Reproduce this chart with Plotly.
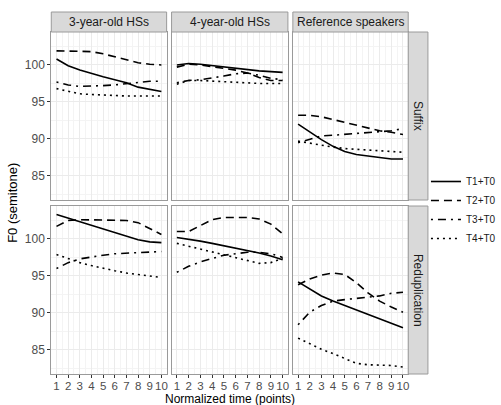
import plotly.graph_objects as go

# ---------------- data ----------------
time_points = list(range(1, 11))
groups = ["3-year-old HSs", "4-year-old HSs", "Reference speakers"]
conditions = ["Suffix", "Reduplication"]
tone_labels = ["T1+T0", "T2+T0", "T3+T0", "T4+T0"]
x_tick_labels = [str(i) for i in range(1, 11)]
y_tick_values = [85, 90, 95, 100]

# Suffix, 3-year-old HSs
suf_3_t1 = [100.8, 99.9, 99.3, 98.8, 98.4, 98.0, 97.6, 97.0, 96.7, 96.4]
suf_3_t2 = [101.9, 101.9, 101.9, 101.8, 101.5, 101.1, 100.7, 100.3, 100.1, 100.0]
suf_3_t3 = [97.7, 97.3, 97.1, 97.1, 97.2, 97.3, 97.5, 97.7, 97.8, 97.8]
suf_3_t4 = [96.8, 96.4, 96.1, 96.0, 95.9, 95.8, 95.8, 95.8, 95.8, 95.8]
# Suffix, 4-year-old HSs
suf_4_t1 = [100.0, 100.2, 100.1, 99.9, 99.7, 99.5, 99.3, 99.2, 99.1, 99.0]
suf_4_t2 = [99.7, 100.1, 100.0, 99.8, 99.6, 99.3, 98.9, 98.3, 97.9, 97.9]
suf_4_t3 = [97.6, 97.9, 98.0, 98.2, 98.5, 98.8, 98.9, 98.6, 98.2, 98.0]
suf_4_t4 = [97.4, 97.9, 97.9, 97.8, 97.7, 97.6, 97.6, 97.5, 97.5, 97.5]
# Suffix, Reference speakers
suf_r_t1 = [92.0, 90.9, 89.9, 89.0, 88.3, 87.9, 87.7, 87.6, 87.3, 87.3]
suf_r_t2 = [93.2, 93.2, 93.0, 92.6, 92.2, 91.8, 91.4, 91.1, 90.9, 90.6]
suf_r_t3 = [89.5, 90.0, 90.4, 90.5, 90.6, 90.7, 90.8, 90.9, 91.1, 91.4]
suf_r_t4 = [89.7, 89.4, 89.1, 88.9, 88.7, 88.6, 88.5, 88.4, 88.3, 88.2]
# Reduplication, 3-year-old HSs
red_3_t1 = [103.3, 102.8, 102.3, 101.8, 101.3, 100.8, 100.4, 99.9, 99.6, 99.5]
red_3_t2 = [101.7, 102.5, 102.6, 102.6, 102.6, 102.6, 102.5, 102.2, 101.4, 100.6]
red_3_t3 = [96.0, 96.8, 97.3, 97.6, 97.8, 98.0, 98.1, 98.2, 98.3, 98.3]
red_3_t4 = [97.9, 97.3, 96.8, 96.4, 96.0, 95.7, 95.4, 95.2, 94.9, 94.8]
# Reduplication, 4-year-old HSs
red_4_t1 = [100.2, 100.0, 99.7, 99.4, 99.1, 98.8, 98.5, 98.1, 97.7, 97.2]
red_4_t2 = [101.0, 101.0, 101.8, 102.6, 102.9, 102.9, 102.9, 102.7, 102.0, 100.7]
red_4_t3 = [95.5, 96.3, 96.9, 97.4, 97.8, 98.0, 98.2, 98.2, 98.0, 97.5]
red_4_t4 = [99.4, 99.0, 98.6, 98.2, 97.8, 97.4, 97.0, 96.7, 96.8, 97.4]
# Reduplication, Reference speakers
red_r_t1 = [94.2, 93.3, 92.3, 91.6, 91.0, 90.4, 89.8, 89.2, 88.6, 88.0]
red_r_t2 = [93.8, 94.6, 95.1, 95.4, 95.2, 94.1, 92.7, 91.6, 90.8, 90.1]
red_r_t3 = [88.4, 90.1, 91.0, 91.6, 91.8, 92.0, 92.1, 92.3, 92.65, 92.8]
red_r_t4 = [86.6, 85.8, 85.1, 84.5, 83.8, 83.2, 83.0, 83.0, 82.9, 82.7]

panels = [
    [suf_3_t1, suf_3_t2, suf_3_t3, suf_3_t4],
    [suf_4_t1, suf_4_t2, suf_4_t3, suf_4_t4],
    [suf_r_t1, suf_r_t2, suf_r_t3, suf_r_t4],
    [red_3_t1, red_3_t2, red_3_t3, red_3_t4],
    [red_4_t1, red_4_t2, red_4_t3, red_4_t4],
    [red_r_t1, red_r_t2, red_r_t3, red_r_t4],
]

# ---------------- styling ----------------
W, H = 501, 405
FONT = "Liberation Sans, Arial, sans-serif"
dashes = ["solid", "8px,5px", "2px,5px,8px,5px", "2px,4px"]
BORDER = "#9a9a9a"
STRIP_FILL = "#D9D9D9"

def px_x(p):
    return p / W

def px_y(p):
    return 1 - p / H

col_px = [(52, 169), (174, 292), (297, 414)]
row_px = [(32, 200), (206, 374)]

fig = go.Figure()

for pi, series in enumerate(panels):
    ax = pi + 1
    xa = "x" if ax == 1 else f"x{ax}"
    ya = "y" if ax == 1 else f"y{ax}"
    for ti, vals in enumerate(series):
        fig.add_trace(go.Scatter(
            x=time_points, y=vals, mode="lines",
            line=dict(color="black", width=1.6, dash=dashes[ti]),
            name=tone_labels[ti], legendgroup=tone_labels[ti],
            showlegend=(pi == 0), xaxis=xa, yaxis=ya,
        ))

layout = dict(
    width=W, height=H,
    margin=dict(l=0, r=0, t=0, b=0),
    paper_bgcolor="white", plot_bgcolor="white",
    font=dict(family=FONT, color="#1A1A1A"),
    legend=dict(x=px_x(432), y=px_y(167), xanchor="left", yanchor="top",
                font=dict(size=10, family=FONT, color="#1A1A1A"),
                itemwidth=30, bgcolor="rgba(0,0,0,0)", tracegroupgap=0),
    shapes=[], annotations=[],
)

for pi in range(6):
    r, c = divmod(pi, 3)
    ax = pi + 1
    xkey = "xaxis" if ax == 1 else f"xaxis{ax}"
    ykey = "yaxis" if ax == 1 else f"yaxis{ax}"
    yname = "y" if ax == 1 else f"y{ax}"
    xname = "x" if ax == 1 else f"x{ax}"
    x0, x1 = col_px[c]
    y0, y1 = row_px[r]
    layout[xkey] = dict(
        domain=[px_x(x0), px_x(x1)], anchor=yname, range=[0.55, 10.45],
        tickmode="array", tickvals=time_points, ticktext=x_tick_labels,
        tickangle=0, ticklabelstandoff=-2,
        showticklabels=(r == 1), ticks="outside" if r == 1 else "",
        ticklen=3, tickcolor="#333333", tickwidth=1,
        tickfont=dict(size=11.5, family=FONT, color="#4D4D4D"),
        showgrid=True, gridcolor="#EBEBEB", gridwidth=1,
        minor=dict(tickmode="array", tickvals=[i + 0.5 for i in range(0, 11)],
                   showgrid=True, gridcolor="#F4F4F4", gridwidth=0.6),
        showline=True, mirror=True, linecolor=BORDER, linewidth=1,
        zeroline=False, fixedrange=True, automargin=False,
    )
    layout[ykey] = dict(
        domain=[px_y(y1), px_y(y0)], anchor=xname, range=[81.75, 104.45],
        tickmode="array", tickvals=y_tick_values,
        showticklabels=(c == 0), ticks="outside" if c == 0 else "",
        ticklen=3, tickcolor="#333333", tickwidth=1,
        tickfont=dict(size=12, family=FONT, color="#4D4D4D"),
        showgrid=True, gridcolor="#EBEBEB", gridwidth=1,
        minor=dict(tickmode="array", tickvals=[82.5, 87.5, 92.5, 97.5, 102.5],
                   showgrid=True, gridcolor="#F4F4F4", gridwidth=0.6),
        showline=True, mirror=True, linecolor=BORDER, linewidth=1,
        zeroline=False, fixedrange=True, automargin=False,
    )

# column strips (top)
for c, g in enumerate(groups):
    x0, x1 = col_px[c]
    layout["shapes"].append(dict(type="rect", xref="paper", yref="paper",
                                 x0=px_x(x0), x1=px_x(x1), y0=px_y(32), y1=px_y(12),
                                 fillcolor=STRIP_FILL, line=dict(color=BORDER, width=1)))
    layout["annotations"].append(dict(text=g, xref="paper", yref="paper",
                                      x=px_x((x0 + x1) / 2), y=px_y(22),
                                      showarrow=False, xanchor="center", yanchor="middle",
                                      font=dict(size=12, family=FONT, color="#1A1A1A")))
# row strips (right)
for r, cond in enumerate(conditions):
    y0, y1 = row_px[r]
    layout["shapes"].append(dict(type="rect", xref="paper", yref="paper",
                                 x0=px_x(414), x1=px_x(434), y0=px_y(y1), y1=px_y(y0),
                                 fillcolor=STRIP_FILL, line=dict(color=BORDER, width=1)))
    layout["annotations"].append(dict(text=cond, xref="paper", yref="paper",
                                      x=px_x(424), y=px_y((y0 + y1) / 2), textangle=90,
                                      showarrow=False, xanchor="center", yanchor="middle",
                                      font=dict(size=12, family=FONT, color="#1A1A1A")))

# axis titles
layout["annotations"].append(dict(text="F0 (semitone)", xref="paper", yref="paper",
                                  x=px_x(12), y=px_y(203), textangle=-90, showarrow=False,
                                  xanchor="center", yanchor="middle",
                                  font=dict(size=13, family=FONT, color="black")))
layout["annotations"].append(dict(text="Normalized time (points)", xref="paper", yref="paper",
                                  x=px_x(233), y=px_y(398.5), showarrow=False,
                                  xanchor="center", yanchor="middle",
                                  font=dict(size=12, family=FONT, color="black")))

fig.update_layout(**layout)
fig.write_html("out.html", config={"displayModeBar": False},
               post_script="document.body.style.margin='0';document.body.style.overflow='hidden';")
